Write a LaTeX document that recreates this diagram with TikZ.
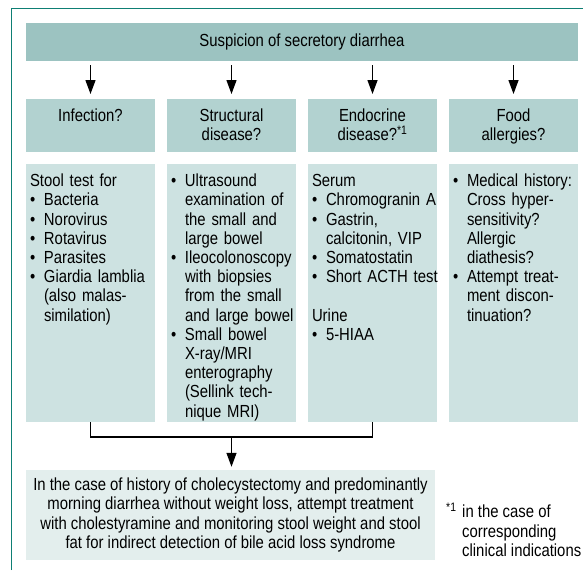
\documentclass[tikz,border=0pt]{standalone}
\usepackage{fontspec}
\setmainfont[FakeStretch=0.85]{Liberation Sans}
\usetikzlibrary{arrows.meta,positioning}
\definecolor{framegreen}{HTML}{0E7F74}
\definecolor{headfill}{HTML}{9CC3C1}
\definecolor{askfill}{HTML}{B2D2D0}
\definecolor{testfill}{HTML}{CDE2E1}
\definecolor{endfill}{HTML}{E3EEED}
\newcommand{\bul}[1]{\makebox[14pt][l]{\textbullet}\mbox{#1}}
\newcommand{\hang}[1]{\hspace*{14pt}\mbox{#1}}
\newcommand{\fnmark}{\textsuperscript{*1}}

\begin{document}
\begin{tikzpicture}[x=1pt,y=-1pt,
  txt/.style={font=\fontsize{17.5}{19.2}\selectfont},
  headbox/.style={txt,fill=headfill,minimum width=552pt,minimum height=38pt,inner sep=0pt},
  askbox/.style={txt,fill=askfill,anchor=north,text width=129pt,align=center,inner sep=0pt,text height=22.5pt,text depth=30.5pt},
  testbox/.style={txt,fill=testfill,anchor=north,text width=121pt,align=left,inner xsep=4pt,inner ysep=0pt,text height=22.5pt,text depth=235.5pt},
  endbox/.style={txt,fill=endfill,minimum width=409pt,minimum height=90pt,align=center,inner sep=0pt},
  arr/.style={-{Triangle[length=14pt,width=10pt]},line width=1.3pt},
  link/.style={line width=1.3pt}]
\useasboundingbox (0,0) rectangle (583,570);
% \draw[help lines,step=50] (0,0) grid (583,570);
\draw[framegreen,line width=1.6pt] (11.5,570) -- (11.5,8.5) -- (583,8.5);
%
\node (head) [headbox] at (302,42) {Suspicion of secretory diarrhea};
%
\node (a1) [askbox] at (90.5,99) {Infection?};
\node (a2) [askbox] at (231.5,99) {Structural\\disease?};
\node (a3) [askbox] at (372.5,99) {Endocrine\\disease?\fnmark};
\node (a4) [askbox] at (513.5,99) {Food\\allergies?};
%
\draw[arr,shorten <=4pt,shorten >=5pt] (a1 |- head.south) -- (a1.north);
\draw[arr,shorten <=4pt,shorten >=5pt] (a2 |- head.south) -- (a2.north);
\draw[arr,shorten <=4pt,shorten >=5pt] (a3 |- head.south) -- (a3.north);
\draw[arr,shorten <=4pt,shorten >=5pt] (a4 |- head.south) -- (a4.north);
%
\node (t1) [testbox] at (90.5,164) {Stool test for\\
  \bul{Bacteria}\\
  \bul{Norovirus}\\
  \bul{Rotavirus}\\
  \bul{Parasites}\\
  \bul{Giardia lamblia}\\
  \hang{(also malas-}\\
  \hang{similation)}};
\node (t2) [testbox] at (231.5,164) {\bul{Ultrasound}\\
  \hang{examination of}\\
  \hang{the small and}\\
  \hang{large bowel}\\
  \bul{Ileocolonoscopy}\\
  \hang{with biopsies}\\
  \hang{from the small}\\
  \hang{and large bowel}\\
  \bul{Small bowel}\\
  \hang{X-ray/MRI}\\
  \hang{enterography}\\
  \hang{(Sellink tech-}\\
  \hang{nique MRI)}};
\node (t3) [testbox] at (372.5,164) {Serum\\
  \bul{Chromogranin A}\\
  \bul{Gastrin,}\\
  \hang{calcitonin, VIP}\\
  \bul{Somatostatin}\\
  \bul{Short ACTH test}\\[19.2pt]
  Urine\\
  \bul{5-HIAA}};
\node (t4) [testbox] at (513.5,164) {\bul{Medical history:}\\
  \hang{Cross hyper-}\\
  \hang{sensitivity?}\\
  \hang{Allergic}\\
  \hang{diathesis?}\\
  \bul{Attempt treat-}\\
  \hang{ment discon-}\\
  \hang{tinuation?}};
%
\coordinate (meet) at (t2.south |- 0,437);
\draw[link] (t1.south) |- (meet) -| (t3.south);
%
\node (result) [endbox] at (230.5,515) {In the case of history of cholecystectomy and predominantly\\
  morning diarrhea without weight loss, attempt treatment\\
  with cholestyramine and monitoring stool weight and stool\\
  fat for indirect detection of bile acid loss syndrome};
\draw[arr,shorten >=3pt] (meet) -- (meet |- result.north);
%
\node (note) [txt,anchor=north west,align=left,inner sep=0pt] at (446,503)
  {\makebox[16pt][l]{\fnmark}in the case of\\
   \hspace*{16pt}corresponding\\
   \hspace*{16pt}clinical indications};
\end{tikzpicture}
\end{document}
